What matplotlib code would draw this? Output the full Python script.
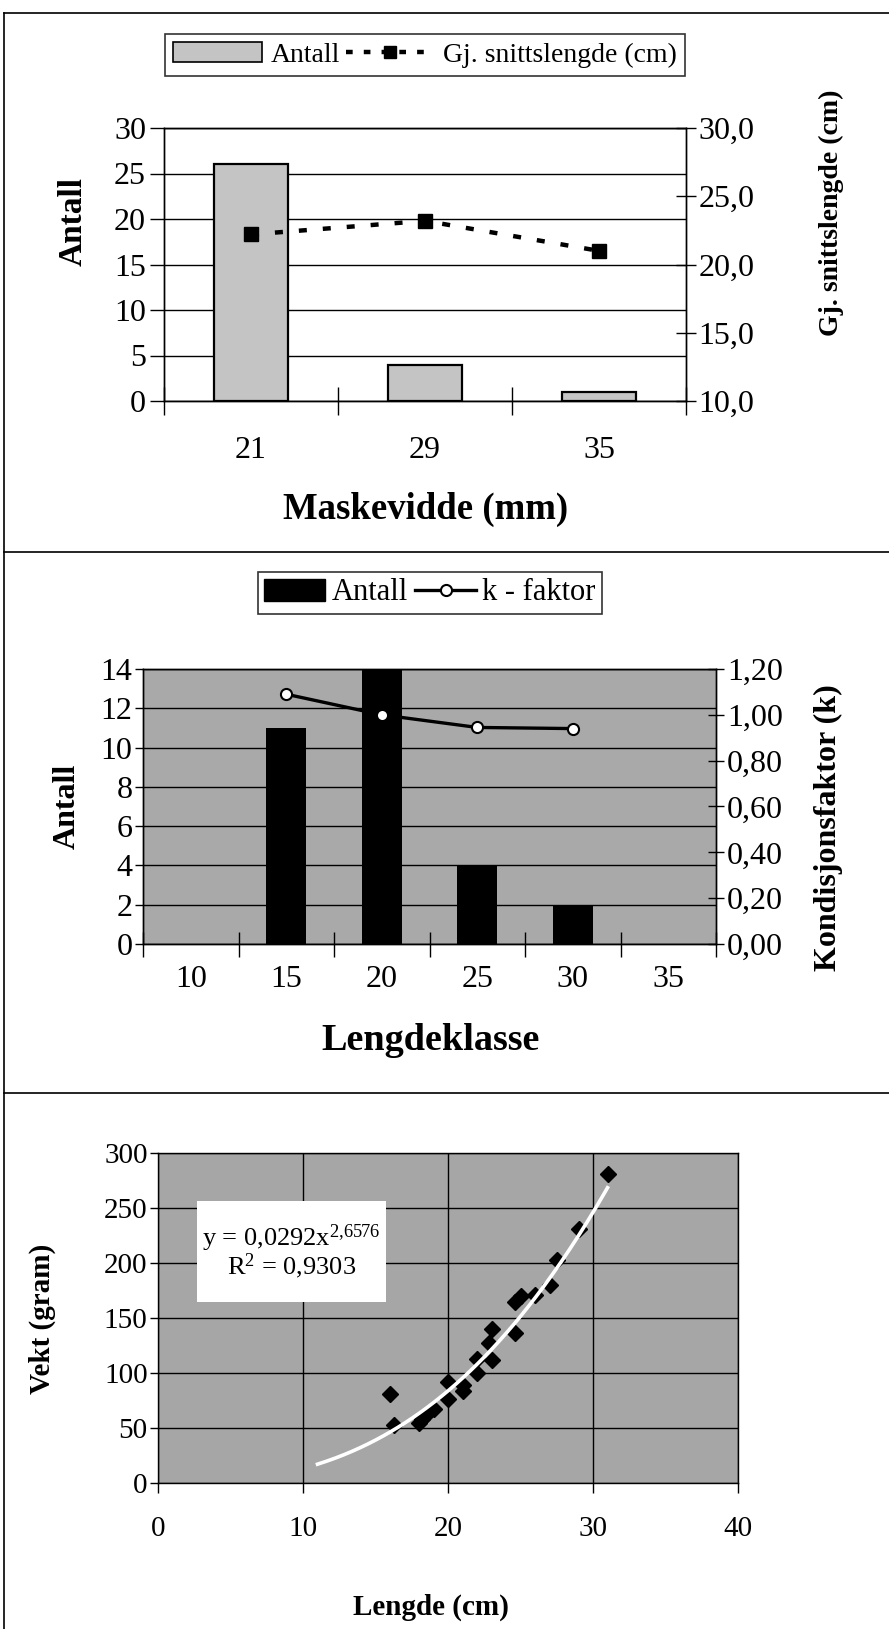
import numpy as np
import matplotlib.pyplot as plt
from matplotlib.lines import Line2D
from matplotlib.patches import Patch, Rectangle
from matplotlib.ticker import FuncFormatter

plt.rcParams['font.family'] = ['Liberation Serif', 'DejaVu Serif']
plt.rcParams['mathtext.fontset'] = 'custom'
plt.rcParams['mathtext.rm'] = 'Liberation Serif'
plt.rcParams['mathtext.it'] = 'Liberation Serif:italic'
plt.rcParams['axes.linewidth'] = 1.0

# fangst pr maskevidde
maskevidde = ['21', '29', '35']
antall_maske = [26, 4, 1]
snittlengde = [22.2, 23.2, 21.0]

# lengdefordeling og k-faktor
lengdeklasse = ['10', '15', '20', '25', '30', '35']
antall_klasse = [0, 11, 14, 4, 2, 0]
k_faktor = [np.nan, 1.09, 1.00, 0.945, 0.94, np.nan]

# lengde-vekt
lengde = [16, 16.3, 18, 18.2, 18.5, 19, 20, 20, 21, 21, 22, 22, 22.8, 23, 23,
          24.6, 24.6, 25, 26, 27, 27.5, 29, 31]
vekt = [81, 53, 55, 58, 62, 67, 92, 76, 89, 84, 100, 113, 127, 112, 140,
        136, 165, 170, 171, 180, 203, 231, 281]
a_koef, b_koef = 0.0292, 2.6576
r2 = 0.9303

W, H = 889, 1629
fig = plt.figure(figsize=(W / 100, H / 100), dpi=100)

def komma(des):
    return FuncFormatter(lambda v, p: f'{v:.{des}f}'.replace('.', ','))

TS = 23  # tick label size

# ---------- figur 1 ----------
ax1 = fig.add_axes([164 / W, 1 - 401 / H, 522 / W, 273 / H])
x1 = np.arange(len(maskevidde))
ax1.bar(x1, antall_maske, width=0.42, color='#c4c4c4', edgecolor='black',
        linewidth=1.6, zorder=3)
ax1.set_xlim(-0.5, len(maskevidde) - 0.5)
ax1.set_ylim(0, 30)
ax1.set_yticks(range(0, 31, 5))
ax1.yaxis.grid(True, color='black', lw=1)
ax1.set_axisbelow(True)
ax1.set_xticks(np.arange(-0.5, len(maskevidde), 1))
ax1.set_xticklabels([])
ax1.set_xticks(x1, minor=True)
ax1.set_xticklabels(maskevidde, minor=True)
ax1.tick_params(axis='x', which='major', direction='inout', length=20, width=1)
ax1.tick_params(axis='x', which='minor', length=0, pad=25, labelsize=TS)
ax1.tick_params(axis='y', direction='out', length=10, width=1, pad=3, labelsize=TS)

ax1b = ax1.twinx()
ax1b.plot(x1, snittlengde, color='black', lw=3.2, ls=(0, (1.8, 3.6)),
          marker='s', ms=9.5)
ax1b.set_ylim(10, 30)
ax1b.set_yticks(range(10, 31, 5))
ax1b.yaxis.set_major_formatter(komma(1))
ax1b.tick_params(axis='y', direction='inout', length=14, width=1, pad=2, labelsize=TS)

leg1 = fig.legend(
    [Patch(facecolor='#c4c4c4', edgecolor='black', lw=1.2),
     Line2D([], [], color='black', lw=3.2, ls=(0, (1.5, 2.5)), marker='s', ms=9)],
    ['Antall', 'Gj. snittslengde (cm)'], ncol=2, loc='center',
    bbox_to_anchor=(425 / W, 1 - 55 / H), fontsize=20, frameon=True,
    fancybox=False, edgecolor='black', handlelength=3.2, handleheight=0.7,
    handletextpad=0.3, columnspacing=0.2, borderpad=0.3, borderaxespad=0)
leg1.get_frame().set_linewidth(1.2)

fig.text(73 / W, 1 - 222 / H, 'Antall', rotation=90, fontsize=24,
         fontweight='bold', ha='center', va='center')
fig.text(831 / W, 1 - 213 / H, 'Gj. snittslengde (cm)', rotation=90,
         fontsize=20, fontweight='bold', ha='center', va='center')
fig.text(426 / W, 1 - 509 / H, 'Maskevidde (mm)', fontsize=26.5,
         fontweight='bold', ha='center', va='center')

# ---------- figur 2 ----------
ax2 = fig.add_axes([143 / W, 1 - 944 / H, 573 / W, 275 / H])
ax2.set_facecolor('#a9a9a9')
x2 = np.arange(len(lengdeklasse))
ax2.bar(x2, antall_klasse, width=0.42, color='black', zorder=3)
ax2.set_xlim(-0.5, len(lengdeklasse) - 0.5)
ax2.set_ylim(0, 14)
ax2.set_yticks(range(0, 15, 2))
ax2.yaxis.grid(True, color='black', lw=1)
ax2.set_axisbelow(True)
ax2.set_xticks(np.arange(-0.5, len(lengdeklasse), 1))
ax2.set_xticklabels([])
ax2.set_xticks(x2, minor=True)
ax2.set_xticklabels(lengdeklasse, minor=True)
ax2.tick_params(axis='x', which='major', direction='inout', length=18, width=1)
ax2.tick_params(axis='x', which='minor', length=0, pad=15, labelsize=TS)
ax2.tick_params(axis='y', direction='out', length=6, width=1, pad=1.5, labelsize=TS)

ax2b = ax2.twinx()
ax2b.plot(x2, k_faktor, color='black', lw=2.4, marker='o', ms=8,
          mfc='white', mec='black', mew=1.5)
ax2b.set_ylim(0, 1.2)
ax2b.set_yticks(np.arange(0, 1.21, 0.2))
ax2b.yaxis.set_major_formatter(komma(2))
ax2b.tick_params(axis='y', direction='inout', length=12, width=1, pad=2, labelsize=TS)

leg2 = fig.legend(
    [Patch(facecolor='black', edgecolor='black'),
     Line2D([], [], color='black', lw=2.4, marker='o', ms=8, mfc='white',
            mec='black', mew=1.5)],
    ['Antall', 'k - faktor'], ncol=2, loc='center',
    bbox_to_anchor=(430 / W, 1 - 593 / H), fontsize=22, frameon=True,
    fancybox=False, edgecolor='black', handlelength=2.0, handleheight=0.7,
    handletextpad=0.2, columnspacing=0.25, borderpad=0.2, borderaxespad=0)
leg2.get_frame().set_linewidth(1.2)

fig.text(67 / W, 1 - 806 / H, 'Antall', rotation=90, fontsize=23,
         fontweight='bold', ha='center', va='center')
fig.text(828 / W, 1 - 828 / H, 'Kondisjonsfaktor (k)', rotation=90,
         fontsize=23, fontweight='bold', ha='center', va='center')
fig.text(431 / W, 1 - 1040 / H, 'Lengdeklasse', fontsize=27.5,
         fontweight='bold', ha='center', va='center')

# ---------- figur 3 ----------
ax3 = fig.add_axes([158 / W, 1 - 1483 / H, 580 / W, 330 / H])
ax3.set_facecolor('#a6a6a6')
ax3.set_xlim(0, 40)
ax3.set_ylim(0, 300)
ax3.set_xticks(range(0, 41, 10))
ax3.set_yticks(range(0, 301, 50))
ax3.grid(True, color='black', lw=1)
ax3.set_axisbelow(True)
ax3.tick_params(axis='x', direction='out', length=7, width=1, pad=17, labelsize=21)
ax3.tick_params(axis='y', direction='out', length=6, width=1, pad=1.5, labelsize=21)
ax3.plot(lengde, vekt, ls='none', marker='D', ms=8, color='black', zorder=3)

# potens-trendlinje
xt = np.linspace(11, 31, 200)
ax3.plot(xt, a_koef * xt ** b_koef, color='white', lw=2.6, zorder=4)

ax3.add_patch(Rectangle((39 / 580, 181 / 330), 189 / 580, 101 / 330,
                        transform=ax3.transAxes, facecolor='white',
                        edgecolor='none', zorder=5))
ax3.text(133 / 580, 245 / 330,
         'y = ' + f'{a_koef:.4f}'.replace('.', ',') + 'x$^{' +
         f'{b_koef:.4f}'.replace('.', '{,}') + '}$',
         transform=ax3.transAxes, fontsize=19, ha='center', va='center', zorder=6)
ax3.text(134 / 580, 217 / 330,
         'R$^{2}$ = ' + f'{r2:.4f}'.replace('.', ','),
         transform=ax3.transAxes, fontsize=19, ha='center', va='center', zorder=6)

fig.text(42 / W, 1 - 1319 / H, 'Vekt (gram)', rotation=90, fontsize=21,
         fontweight='bold', ha='center', va='center')
fig.text(431 / W, 1 - 1607 / H, 'Lengde (cm)', fontsize=21,
         fontweight='bold', ha='center', va='center')

# rammelinjer rundt figurene
for yy in (13, 552, 1093):
    fig.add_artist(Line2D([4 / W, 1], [1 - yy / H] * 2, color='black', lw=1.2))
fig.add_artist(Line2D([4 / W, 4 / W], [0, 1 - 13 / H], color='black', lw=1.2))

fig.savefig('out.png', dpi=100)
